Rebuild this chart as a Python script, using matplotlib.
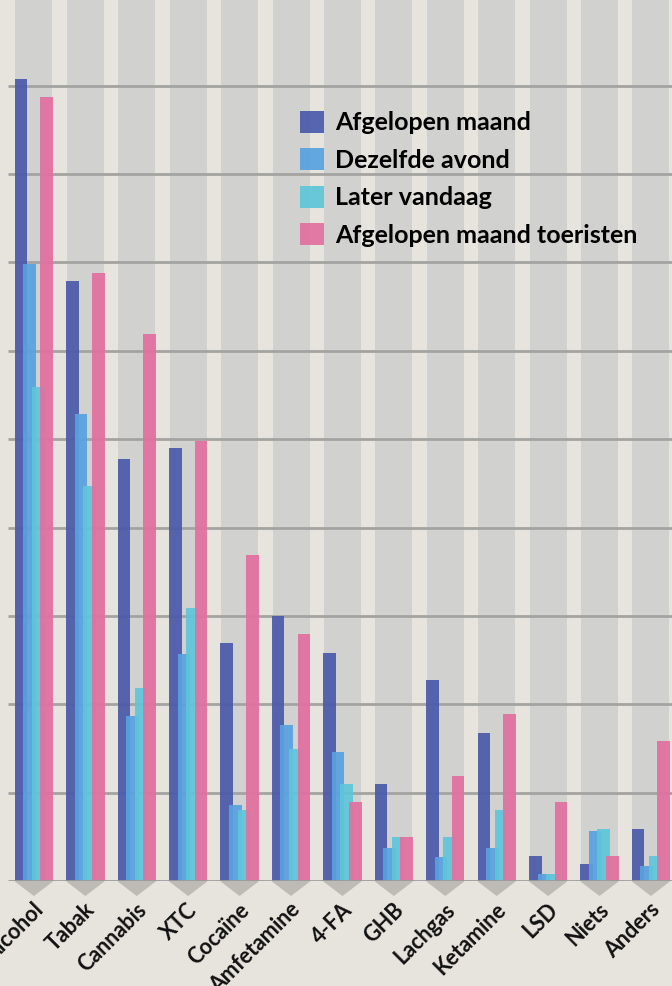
import matplotlib.pyplot as plt
from matplotlib.patches import Patch

# categories and values (gridline step = 10)
categories = ["Alcohol", "Tabak", "Cannabis", "XTC", "Cocaïne", "Amfetamine",
              "4-FA", "GHB", "Lachgas", "Ketamine", "LSD", "Niets", "Anders"]
afgelopen_maand = [90.8, 67.9, 47.7, 49.0, 26.9, 30.0, 25.8, 11.0, 22.7, 16.7, 2.8, 1.9, 5.9]
dezelfde_avond = [69.8, 52.9, 18.7, 25.7, 8.6, 17.6, 14.6, 3.7, 2.7, 3.7, 0.8, 5.7, 1.7]
later_vandaag = [55.9, 44.7, 21.8, 30.9, 8.0, 14.9, 11.0, 5.0, 5.0, 8.0, 0.8, 5.9, 2.8]
toeristen = [88.7, 68.8, 61.9, 49.8, 36.9, 27.9, 8.9, 5.0, 11.9, 18.9, 8.9, 2.8, 15.8]

series = [
    ("Afgelopen maand", afgelopen_maand, "#4a5aab"),
    ("Dezelfde avond", dezelfde_avond, "#58a2e0"),
    ("Later vandaag", later_vandaag, "#5ec6d8"),
    ("Afgelopen maand toeristen", toeristen, "#e2709f"),
]

light_bg = "#e7e4dd"
dark_col = "#d1d1cf"
grid_col = "#a3a3a1"

fig = plt.figure(figsize=(6.72, 9.86), dpi=100, facecolor=light_bg)
ax = fig.add_axes([0, 0.1065, 1, 0.8935])
ax.set_facecolor(light_bg)
ymax = 99.7
x = list(range(len(categories)))

# darker column behind each group
ax.bar(x, [ymax] * len(x), width=0.72, color=dark_col, zorder=0)

# gridlines and baseline
ax.hlines(range(10, 100, 10), -0.506, 12.6, color=grid_col, lw=2, zorder=1)
ax.hlines(0, -0.506, 12.6, color="#9c9c9a", lw=2, zorder=3)

offsets = [-0.25, -0.083, 0.083, 0.25]
for (name, vals, col), off in zip(series, offsets):
    ax.bar([i + off for i in x], vals, width=0.245, color=col, alpha=0.92, zorder=2)

# little triangles under each category
for i in x:
    ax.fill([i - 0.36, i + 0.36, i], [0, 0, -1.6], color="#bebbb6",
            clip_on=False, zorder=1)

for i, lab in enumerate(categories):
    ax.text(i + 0.12, -2.9, lab, rotation=45, rotation_mode="anchor",
            ha="right", va="center", fontsize=15.5, family="Lato",
            weight="bold", color="#111111", clip_on=False)

handles = [Patch(facecolor=c, alpha=0.92, label=n) for n, _, c in series]
ax.legend(handles=handles, loc="upper left", frameon=False,
          bbox_to_anchor=(300 / 672, 1 - 111 / 986), bbox_transform=fig.transFigure,
          prop={"family": "Lato", "size": 18, "weight": "bold"},
          handlelength=0.96, handleheight=0.96,
          handletextpad=0.44, labelspacing=0.56, borderpad=0, borderaxespad=0)

ax.set_xlim(-0.66, 12.41)
ax.set_ylim(0, ymax)
ax.axis("off")

fig.savefig("out.png", dpi=100, facecolor=light_bg)
